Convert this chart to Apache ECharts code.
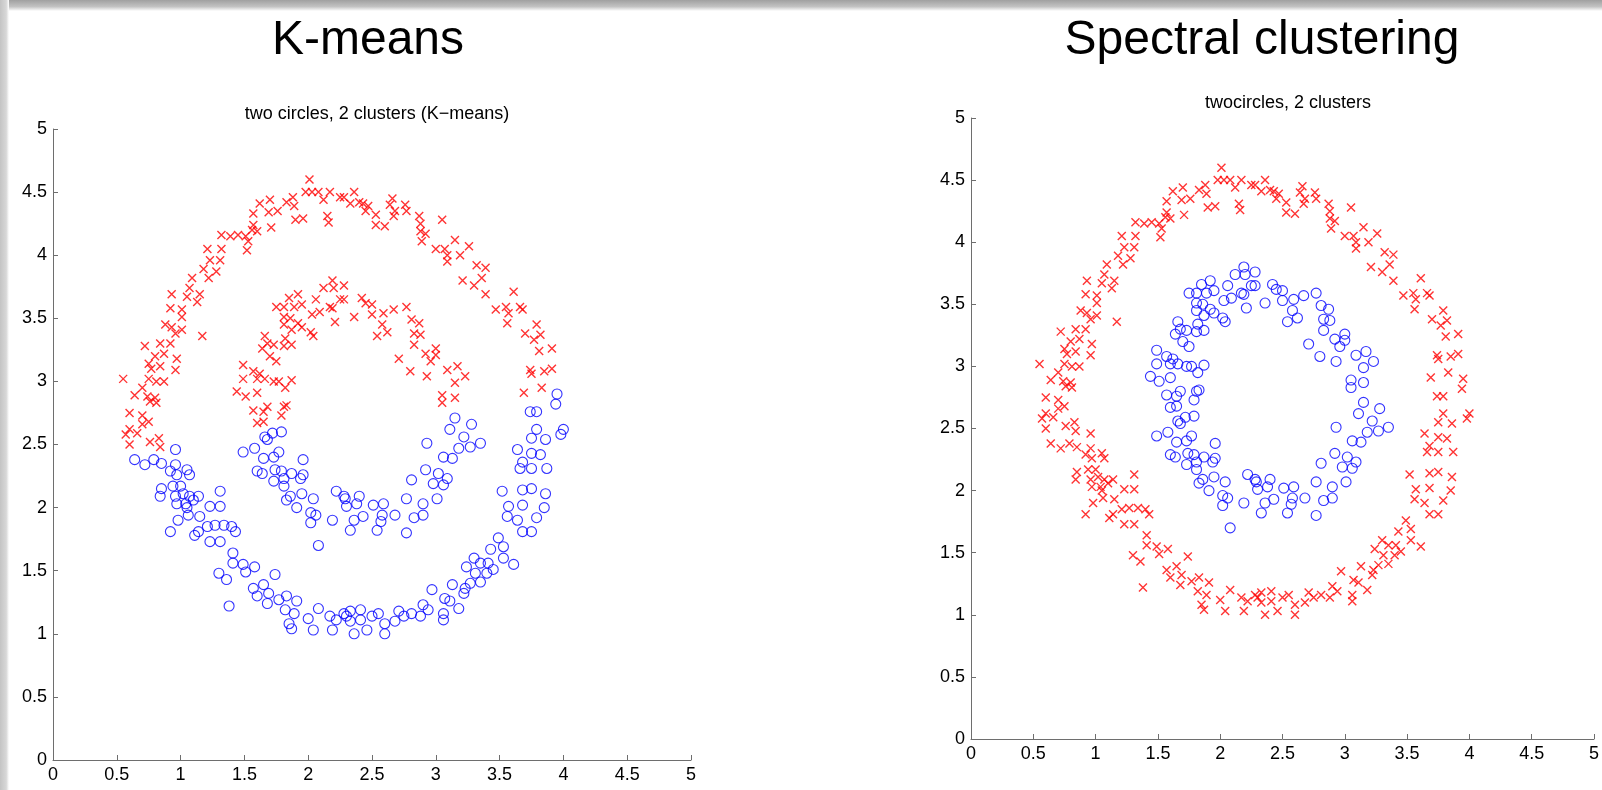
<!DOCTYPE html>
<html>
<head>
<meta charset="utf-8">
<title>K-means vs Spectral clustering</title>
<script src="https://cdn.jsdelivr.net/npm/echarts@6/dist/echarts.min.js"></script>
<style>
  html, body { margin: 0; padding: 0; background: #fff; }
  #chart { width: 1602px; height: 790px; }
</style>
</head>
<body>
<div id="chart"></div>
<script>
// same points in both plots, split by ring and by upper / lower half
// outer ring, upper part (red in both plots)
var outerUpper = [
	[2.01,4.60],[1.98,4.50],[2.03,4.50],[2.08,4.50],[2.12,4.44],[2.17,4.50],[2.25,4.46],[1.88,4.46],[1.83,4.42],[1.89,4.39],
	[1.70,4.44],[1.62,4.41],[1.69,4.34],[1.76,4.35],[1.90,4.28],[1.96,4.29],[2.15,4.31],[2.16,4.26],[1.57,4.33],[1.57,4.24],
	[1.56,4.20],[1.60,4.19],[1.71,4.22],[1.51,4.15],[1.53,4.11],[1.52,4.04],[1.45,4.16],[1.39,4.15],[1.32,4.16],[1.21,4.05],
	[1.32,4.05],[1.23,3.96],[1.31,3.96],[1.18,3.89],[1.28,3.87],[1.22,3.82],[1.09,3.82],[1.07,3.74],[0.93,3.69],[1.05,3.67],
	[1.15,3.69],[1.13,3.63],[0.92,3.58],[1.01,3.57],[1.01,3.51],[0.88,3.45],[0.93,3.43],[0.96,3.38],[1.01,3.41],[0.92,3.30],
	[1.17,3.36],[0.84,3.30],[0.72,3.28],[0.87,3.22],[0.80,3.20],[0.75,3.14],[0.77,3.10],[0.84,3.12],[0.97,3.18],[0.96,3.09],
	[0.75,3.02],[0.81,3.00],[0.87,3.00],[0.55,3.02],[0.70,2.95],[0.64,2.89],[0.74,2.88],[0.80,2.87],[0.76,2.84],[0.81,2.83],
	[0.60,2.75],[0.70,2.73],[0.75,2.68],[0.70,2.66],[0.60,2.62],[0.66,2.59],[0.57,2.58],[0.76,2.52],[0.83,2.55],[0.84,2.48],
	[0.60,2.50],
	[2.28,4.46],[2.36,4.50],[2.33,4.41],[2.40,4.42],[2.43,4.41],[2.47,4.39],[2.45,4.35],[2.53,4.32],[2.53,4.24],[2.60,4.23],
	[2.66,4.45],[2.64,4.40],[2.68,4.35],[2.67,4.31],[2.76,4.40],[2.77,4.35],[2.87,4.31],[2.88,4.25],[2.88,4.19],[2.92,4.17],
	[2.89,4.11],[3.05,4.28],[3.00,4.05],[3.07,4.05],[3.15,4.12],[3.09,4.00],[3.09,3.95],[3.19,4.00],[3.26,4.07],[3.21,3.80],
	[3.32,3.92],[3.39,3.90],[3.36,3.82],[3.30,3.76],[3.39,3.69],[3.61,3.71],[3.47,3.57],[3.55,3.59],[3.57,3.54],[3.56,3.46],
	[3.66,3.59],[3.68,3.57],[3.79,3.45],[3.70,3.38],[3.77,3.33],[3.82,3.37],[3.81,3.24],[3.91,3.26],[3.74,3.09],[3.75,3.06],
	[3.85,3.08],[3.91,3.10],[3.83,2.95],[3.69,2.91]
];
// outer ring, lower part (blue in K-means, red in spectral)
var outerLower = [
	[0.64,2.38],[0.72,2.34],[0.79,2.38],[0.85,2.35],[0.96,2.46],[0.96,2.34],[0.92,2.29],[1.05,2.30],[1.07,2.26],[0.97,2.26],
	[0.85,2.15],[0.84,2.09],[0.94,2.17],[1.00,2.17],[0.96,2.09],[1.02,2.11],[1.07,2.09],[0.97,2.03],[1.04,2.03],[1.10,2.06],
	[1.14,2.09],[1.31,2.13],[0.98,1.90],[0.92,1.81],[1.06,1.94],[1.05,2.00],[1.15,1.93],[1.23,2.01],[1.31,2.01],[1.21,1.85],
	[1.27,1.86],[1.34,1.86],[1.40,1.85],[1.43,1.81],[1.11,1.78],[1.23,1.73],[1.31,1.73],[1.14,1.81],[1.41,1.64],[1.41,1.56],
	[1.49,1.55],[1.58,1.53],[1.51,1.49],[1.30,1.48],[1.36,1.43],[1.38,1.22],[1.57,1.36],[1.65,1.39],[1.60,1.30],[1.69,1.32],
	[1.74,1.47],[1.68,1.24],[1.77,1.27],[1.83,1.30],[1.91,1.26],[1.82,1.19],[1.89,1.16],[1.85,1.08],[1.87,1.04],[2.00,1.12],
	[2.08,1.20],[2.04,1.03],[2.17,1.14],[2.19,1.03],[2.22,1.11],[2.28,1.16],
	[3.74,2.76],[3.79,2.76],[3.94,2.82],[3.95,2.90],[3.79,2.62],[3.75,2.55],[3.86,2.54],[3.98,2.58],[4.00,2.62],[3.64,2.46],
	[3.75,2.43],[3.82,2.42],[3.68,2.36],[3.66,2.31],[3.75,2.31],[3.87,2.31],[3.52,2.13],[3.68,2.14],[3.75,2.15],[3.86,2.11],
	[3.57,2.01],[3.68,2.02],[3.85,2.00],[3.56,1.93],[3.64,1.90],[3.79,1.92],[3.68,1.81],[3.75,1.81],[3.49,1.76],[3.53,1.69],
	[3.43,1.67],[3.53,1.60],[3.61,1.55],[3.30,1.60],[3.35,1.56],[3.41,1.56],[3.45,1.51],[3.24,1.53],[3.31,1.48],[3.40,1.48],
	[3.27,1.40],[3.35,1.41],[3.23,1.36],[3.13,1.39],[3.22,1.32],[2.97,1.35],[3.07,1.28],[3.11,1.26],[3.18,1.20],[3.06,1.16],
	[3.06,1.11],[2.90,1.23],[2.94,1.19],[2.88,1.14],[2.81,1.16],[2.75,1.14],[2.71,1.18],[2.68,1.10],[2.60,1.08],[2.55,1.16],
	[2.50,1.14],[2.46,1.03],[2.41,1.19],[2.41,1.11],[2.33,1.18],[2.33,1.10],[2.30,1.14],[2.36,1.00],[2.60,1.00]
];
// inner ring, upper part (red in K-means, blue in spectral)
var innerUpper = [
	[2.19,3.80],[2.12,3.74],[2.20,3.74],[2.28,3.76],[1.92,3.69],[1.85,3.66],[1.75,3.59],[1.81,3.59],[1.89,3.59],[1.95,3.61],
	[2.06,3.65],[2.17,3.59],[2.25,3.65],[2.03,3.53],[2.09,3.55],[2.19,3.58],[1.81,3.51],[1.86,3.50],[1.92,3.46],[1.81,3.45],
	[1.95,3.43],[1.87,3.41],[2.02,3.39],[2.04,3.36],[2.21,3.47],[1.66,3.36],[1.68,3.30],[1.73,3.29],[1.64,3.26],[1.82,3.34],
	[1.81,3.28],[1.87,3.29],[1.70,3.20],[1.75,3.16],[1.49,3.13],[1.57,3.08],[1.62,3.06],[1.60,3.02],[1.49,3.02],[1.66,3.02],
	[1.73,3.00],[1.77,3.00],[1.87,3.01],[1.82,2.95],[1.44,2.92],[1.51,2.88],[1.60,2.91],[1.83,2.81],
	[1.57,2.77],[1.65,2.76],[1.68,2.80],[1.60,2.67],[1.65,2.68],[1.81,2.80],[1.79,2.73],
	[2.28,3.65],[2.36,3.51],[2.42,3.66],[2.45,3.62],[2.50,3.61],[2.50,3.53],[2.59,3.54],[2.58,3.45],[2.67,3.57],[2.77,3.59],
	[2.62,3.39],[2.54,3.36],[2.81,3.49],[2.87,3.46],[2.83,3.38],[2.88,3.37],[2.83,3.29],[2.92,3.22],[3.00,3.26],[3.00,3.21],
	[2.96,3.16],[2.71,3.18],[2.80,3.08],[2.93,3.04],[3.09,3.09],[3.17,3.12],[3.15,2.99],[3.23,3.04],[3.05,2.89],[3.15,2.87],
	[3.05,2.83]
];
// inner ring, lower part (blue in both plots)
var innerLower = [
	[1.79,2.60],[1.72,2.59],[1.66,2.56],[1.68,2.54],[1.49,2.44],[1.58,2.47],[1.65,2.39],[1.73,2.40],[1.77,2.44],[1.96,2.38],
	[1.60,2.29],[1.64,2.27],[1.74,2.30],[1.79,2.29],[1.87,2.27],[1.81,2.23],[1.96,2.26],[1.94,2.23],[1.73,2.21],[1.81,2.17],
	[1.95,2.11],[1.86,2.09],[1.83,2.06],[2.04,2.07],[1.91,2.00],[2.02,1.96],[2.06,1.94],[2.02,1.88],[2.19,1.90],[2.22,2.13],
	[2.29,2.07],[2.08,1.70],
	[3.15,2.71],[3.28,2.66],[3.11,2.62],[3.22,2.56],[3.35,2.51],[3.27,2.48],[3.18,2.47],[2.93,2.51],[3.06,2.40],[3.13,2.39],
	[2.92,2.30],[3.02,2.27],[3.09,2.23],[2.81,2.22],[2.98,2.19],[3.06,2.18],[2.77,2.07],[2.90,2.03],[3.01,2.07],[2.83,1.92],
	[2.90,1.94],[2.77,1.80],[2.68,1.94],[2.59,2.03],[2.51,2.02],[2.58,1.94],[2.54,1.82],[2.40,2.09],[2.38,2.03],[2.30,2.01],
	[2.28,2.09],[2.43,1.93],[2.36,1.90],[2.33,1.82],[2.57,1.89]
];

var bigTitles = ['K-means', 'Spectral clustering'];
var subTitles = ['two circles, 2 clusters (K\u2212means)', 'twocircles, 2 clusters'];

var FONT = '"Liberation Sans", Arial, Helvetica, sans-serif';
var RED = '#ff0000', BLUE = '#0000ff';
var crossSymbol = 'path://M0,0L10,10M10,0L0,10';

var chart = echarts.init(document.getElementById('chart'));

function makeAxis(idx) {
	return {
		gridIndex: idx,
		type: 'value',
		min: 0,
		max: 5,
		interval: 0.5,
		axisLine: { show: true, onZero: false, lineStyle: { color: '#6e6e6e', width: 1 } },
		axisTick: { show: true, inside: true, length: 5, lineStyle: { color: '#6e6e6e' } },
		axisLabel: { color: '#000', fontSize: 18, fontFamily: FONT, margin: 6 },
		splitLine: { show: false }
	};
}

function crosses(name, data, idx) {
	return {
		name: name, type: 'scatter', xAxisIndex: idx, yAxisIndex: idx,
		data: data, symbol: crossSymbol, symbolSize: 8, silent: true,
		itemStyle: { color: 'transparent', borderColor: RED, borderWidth: 1.4 }
	};
}

function circles(name, data, idx) {
	return {
		name: name, type: 'scatter', xAxisIndex: idx, yAxisIndex: idx,
		data: data, symbol: 'circle', symbolSize: 10, silent: true,
		itemStyle: { color: 'transparent', borderColor: BLUE, borderWidth: 1.1 }
	};
}

var option = {
	backgroundColor: '#fff',
	animation: false,
	title: [
		{ text: bigTitles[0], left: 363, top: 12, textAlign: 'center',
		  textStyle: { fontSize: 48, fontWeight: 'normal', fontFamily: FONT, color: '#000' } },
		{ text: bigTitles[1], left: 1257, top: 12, textAlign: 'center',
		  textStyle: { fontSize: 48, fontWeight: 'normal', fontFamily: FONT, color: '#000' } },
		{ text: subTitles[0], left: 372, top: 100, textAlign: 'center',
		  textStyle: { fontSize: 18, fontWeight: 'normal', fontFamily: FONT, color: '#000' } },
		{ text: subTitles[1], left: 1283, top: 89, textAlign: 'center',
		  textStyle: { fontSize: 18, fontWeight: 'normal', fontFamily: FONT, color: '#000' } }
	],
	grid: [
		{ left: 53, top: 129, width: 638, height: 631 },
		{ left: 971, top: 118, width: 623, height: 621 }
	],
	xAxis: [makeAxis(0), makeAxis(1)],
	yAxis: [makeAxis(0), makeAxis(1)],
	series: [
		crosses('km-red', outerUpper.concat(innerUpper), 0),
		circles('km-blue', outerLower.concat(innerLower), 0),
		crosses('sc-red', outerUpper.concat(outerLower), 1),
		circles('sc-blue', innerUpper.concat(innerLower), 1)
	],
	// grey frame shadow along the top and left edge of the screenshot
	graphic: [
		{ type: 'rect', left: 0, top: 0, z: -10, silent: true,
		  shape: { width: 1602, height: 11 },
		  style: { fill: new echarts.graphic.LinearGradient(0, 0, 0, 1, [
			{ offset: 0, color: '#a0a0a0' }, { offset: 0.6, color: '#c2c2c2' }, { offset: 1, color: '#ffffff' }]) } },
		{ type: 'rect', left: 0, top: 0, z: -10, silent: true,
		  shape: { width: 9, height: 790 },
		  style: { fill: new echarts.graphic.LinearGradient(0, 0, 1, 0, [
			{ offset: 0, color: '#c4c4c4' }, { offset: 0.7, color: '#d8d8d8' }, { offset: 1, color: '#ffffff' }]) } }
	]
};

chart.setOption(option);
</script>
</body>
</html>
